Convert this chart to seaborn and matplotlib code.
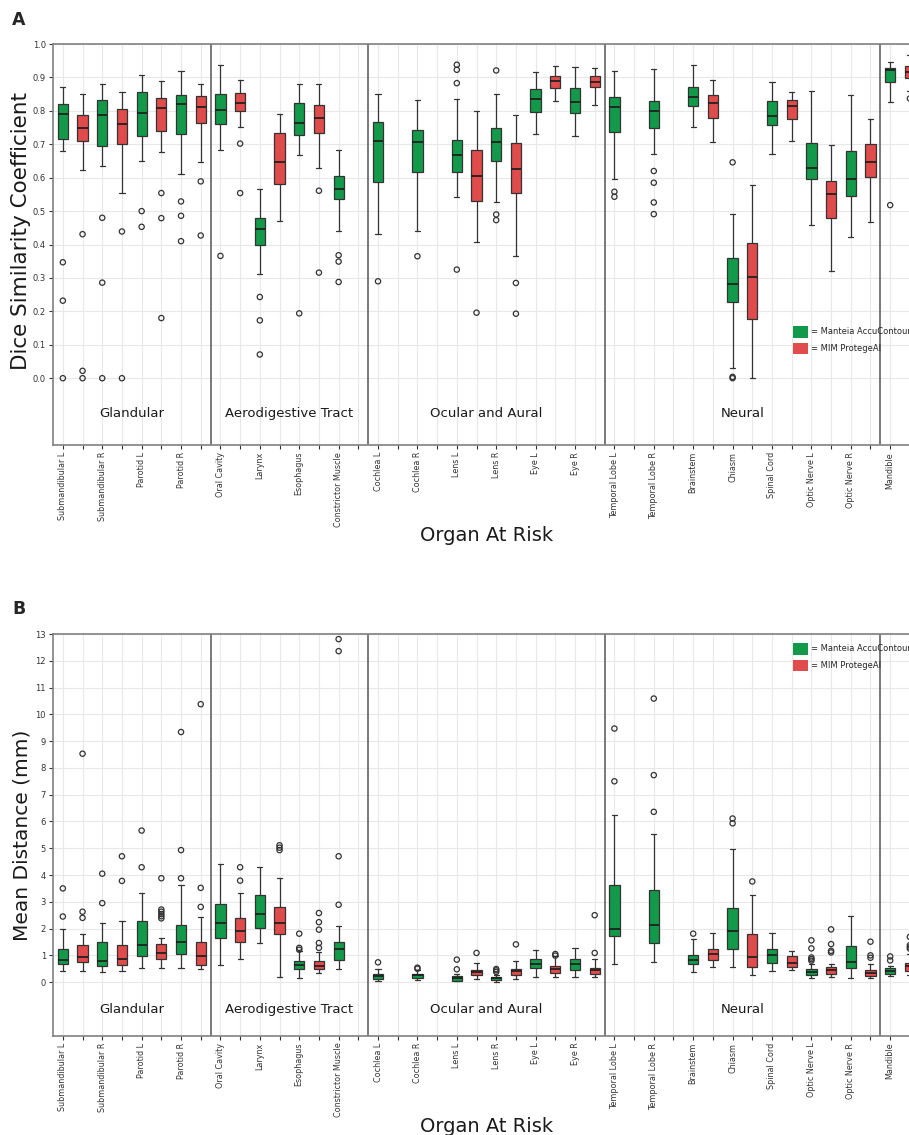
import numpy as np
import pandas as pd
import seaborn as sns
import matplotlib.pyplot as plt
from matplotlib.patches import Patch

# organs in plotting order, grouped by region
organs = ["Submandibular L", "Submandibular R", "Parotid L", "Parotid R",
          "Oral Cavity", "Larynx", "Esophagus", "Constrictor Muscle",
          "Cochlea L", "Cochlea R", "Lens L", "Lens R", "Eye L", "Eye R",
          "Temporal Lobe L", "Temporal Lobe R", "Brainstem", "Chiasm",
          "Spinal Cord", "Optic Nerve L", "Optic Nerve R", "Mandible"]
group_names = ["Glandular", "Aerodigestive Tract", "Ocular and Aural", "Neural", ""]
group_sizes = [4, 4, 6, 7, 1]
tools = ["Manteia AccuContour", "MIM ProtegeAI"]

# box summaries: (whisker low, q1, median, q3, whisker high)
dsc_manteia = [
    (0.681, 0.716, 0.792, 0.822, 0.871), (0.635, 0.694, 0.788, 0.833, 0.881),
    (0.651, 0.724, 0.795, 0.856, 0.907), (0.611, 0.730, 0.822, 0.848, 0.919),
    (0.683, 0.761, 0.802, 0.851, 0.937), (0.311, 0.398, 0.445, 0.479, 0.566),
    (0.668, 0.727, 0.765, 0.824, 0.881), (0.442, 0.536, 0.566, 0.606, 0.682),
    (0.431, 0.587, 0.709, 0.766, 0.851), (0.440, 0.617, 0.707, 0.742, 0.833),
    (0.542, 0.618, 0.668, 0.713, 0.835), (0.526, 0.650, 0.707, 0.749, 0.851),
    (0.732, 0.798, 0.836, 0.866, 0.916), (0.725, 0.795, 0.827, 0.869, 0.931),
    (0.596, 0.736, 0.813, 0.841, 0.920), (0.671, 0.750, 0.801, 0.831, 0.926),
    (0.751, 0.815, 0.841, 0.871, 0.936), (0.031, 0.227, 0.281, 0.361, 0.492),
    (0.672, 0.758, 0.785, 0.831, 0.887), (0.458, 0.597, 0.629, 0.705, 0.859),
    (0.422, 0.545, 0.596, 0.681, 0.848), (0.828, 0.885, 0.921, 0.929, 0.945),
]
dsc_manteia_out = [
    [0.347, 0.232, 0.0], [0.480, 0.286, 0.0], [0.500, 0.453], [0.529, 0.486, 0.410],
    [0.366], [0.243, 0.173, 0.071], [0.194], [0.368, 0.349, 0.288],
    [0.290], [0.365], [0.938, 0.923, 0.883, 0.325], [0.921, 0.490, 0.473], [], [],
    [0.558, 0.543], [0.620, 0.585, 0.526, 0.491], [], [0.646, 0.004, 0.0],
    [], [], [], [0.518],
]
dsc_mim = [
    (0.622, 0.709, 0.750, 0.787, 0.851), (0.554, 0.701, 0.762, 0.807, 0.855),
    (0.678, 0.739, 0.809, 0.838, 0.890), (0.648, 0.763, 0.812, 0.845, 0.879),
    (0.753, 0.800, 0.823, 0.853, 0.891), (0.470, 0.581, 0.646, 0.735, 0.790),
    (0.629, 0.735, 0.778, 0.819, 0.881), None,
    None, None,
    (0.408, 0.531, 0.605, 0.682, 0.801), (0.366, 0.553, 0.625, 0.704, 0.789),
    (0.830, 0.869, 0.889, 0.905, 0.934), (0.819, 0.871, 0.886, 0.904, 0.929),
    None, None,
    (0.707, 0.778, 0.824, 0.847, 0.893), (0.0, 0.176, 0.304, 0.404, 0.579),
    (0.711, 0.776, 0.816, 0.833, 0.855), (0.320, 0.480, 0.551, 0.591, 0.698),
    (0.466, 0.601, 0.648, 0.700, 0.775), (0.860, 0.897, 0.917, 0.933, 0.968),
]
dsc_mim_out = [
    [0.431, 0.022, 0.0], [0.439, 0.0], [0.554, 0.479, 0.180], [0.589, 0.427],
    [0.702, 0.554], [], [0.561, 0.316], [],
    [], [], [0.196], [0.285, 0.193], [], [],
    [], [], [], [],
    [], [], [], [0.837],
]

mda_manteia = [
    (0.41, 0.66, 0.81, 1.25, 1.98), (0.36, 0.59, 0.79, 1.48, 2.19),
    (0.51, 0.96, 1.40, 2.29, 3.31), (0.53, 1.04, 1.50, 2.15, 3.63),
    (0.63, 1.63, 2.21, 2.90, 4.40), (1.45, 2.01, 2.53, 3.24, 4.30),
    (0.15, 0.50, 0.63, 0.78, 1.15), (0.48, 0.81, 1.25, 1.51, 2.09),
    (0.06, 0.11, 0.23, 0.31, 0.50), (0.09, 0.16, 0.25, 0.31, 0.44),
    (0.03, 0.06, 0.16, 0.22, 0.31), (0.0, 0.08, 0.14, 0.19, 0.25),
    (0.19, 0.51, 0.69, 0.85, 1.21), (0.19, 0.45, 0.66, 0.88, 1.26),
    (0.67, 1.73, 1.97, 3.61, 6.24), (0.76, 1.47, 2.14, 3.43, 5.53),
    (0.36, 0.67, 0.83, 1.03, 1.60), (0.56, 1.22, 1.92, 2.77, 4.98),
    (0.40, 0.71, 1.01, 1.22, 1.82), (0.14, 0.27, 0.36, 0.49, 0.69),
    (0.14, 0.52, 0.76, 1.35, 2.47), (0.24, 0.31, 0.40, 0.51, 0.62),
]
mda_manteia_out = [
    [3.50, 2.45], [4.05, 2.95], [5.66, 4.29], [9.34, 4.93, 3.88],
    [], [], [1.81, 1.28, 1.21], [12.81, 12.36, 4.70, 2.89],
    [0.74], [0.54, 0.50], [0.84, 0.48], [0.49, 0.44, 0.38], [], [],
    [9.47, 7.50], [10.59, 7.73, 6.36], [1.81], [6.11, 5.93],
    [], [1.56, 1.26, 0.92, 0.86, 0.80], [], [0.96, 0.81],
]
mda_mim = [
    (0.43, 0.74, 0.94, 1.38, 1.78), (0.43, 0.65, 0.88, 1.40, 2.30),
    (0.53, 0.85, 1.09, 1.43, 1.63), (0.49, 0.65, 0.98, 1.48, 2.44),
    (0.86, 1.50, 1.91, 2.38, 3.34), (0.20, 1.78, 2.19, 2.80, 3.90),
    (0.34, 0.49, 0.59, 0.80, 1.13), None,
    None, None,
    (0.10, 0.28, 0.38, 0.45, 0.72), (0.10, 0.25, 0.40, 0.49, 0.80),
    (0.20, 0.34, 0.49, 0.59, 0.96), (0.19, 0.29, 0.44, 0.54, 0.88),
    None, None,
    (0.56, 0.81, 1.05, 1.25, 1.84), (0.25, 0.55, 0.93, 1.78, 3.25),
    (0.46, 0.55, 0.71, 0.97, 1.18), (0.21, 0.32, 0.46, 0.57, 0.67),
    (0.17, 0.24, 0.34, 0.45, 0.66), (0.25, 0.41, 0.59, 0.71, 1.04),
]
mda_mim_out = [
    [8.53, 2.63, 2.40], [4.70, 3.78], [3.88, 2.71, 2.63, 2.54, 2.46, 2.38],
    [10.38, 3.52, 2.81], [4.29, 3.79], [5.11, 5.02, 4.93],
    [2.58, 2.24, 1.96, 1.46, 1.28], [],
    [], [], [1.09], [1.41], [1.05, 0.99], [2.50, 1.09],
    [], [], [], [3.76],
    [], [1.97, 1.42, 1.17, 1.11], [1.51, 1.00, 0.91], [1.69, 1.38, 1.31, 1.25],
]

GREEN = "#13994a"
RED = "#e04b4b"
palette = {tools[0]: GREEN, tools[1]: RED}
slots = [f"{o}|{t}" for o in organs for t in tools]


def long_tables(box_lists, out_lists):
    box_rows, out_rows = [], []
    for tool, boxes, outs in zip(tools, box_lists, out_lists):
        for organ, stats, fl in zip(organs, boxes, outs):
            slot = f"{organ}|{tool}"
            if stats is not None:
                box_rows += [(slot, tool, v) for v in stats]
            out_rows += [(slot, tool, v) for v in fl]
    cols = ["slot", "tool", "value"]
    return pd.DataFrame(box_rows, columns=cols), pd.DataFrame(out_rows, columns=cols)


def draw_panel(ax, box_df, out_df, yticks, ylim, fmt, ylabel, label_size, label_y, group_y):
    # five-number summaries -> whiskers go to min/max of the summary
    sns.boxplot(data=box_df, x="slot", y="value", hue="tool", order=slots,
                hue_order=tools, palette=palette, dodge=False, whis=(0, 100),
                width=0.52, saturation=1, showfliers=False, linewidth=0.9,
                linecolor="#333333", legend=False,
                medianprops=dict(color="#1a1a1a", linewidth=1.2), ax=ax)
    sns.stripplot(data=out_df, x="slot", y="value", order=slots, jitter=False,
                  color="#333333", facecolor="none", edgecolor="#333333",
                  linewidth=0.9, size=3.8, ax=ax)

    ax.set_xlim(-0.5, len(slots) - 0.5)
    ax.set_ylim(*ylim)
    ax.set_xticks(range(len(slots)))
    ax.set_xticklabels([s.split("|")[0] if s.endswith(tools[0]) else "" for s in slots],
                       rotation=90, fontsize=5.8)
    ax.set_yticks(yticks)
    ax.set_yticklabels([fmt.format(v) for v in yticks], fontsize=6)
    ax.tick_params(axis="both", bottom=True, left=True, length=3, width=0.8,
                   color="#333333", pad=2, labelcolor="#333333")
    ax.grid(True, color="#e8e8e8", linewidth=0.8)
    ax.set_axisbelow(True)

    # region separators and names
    ends = np.cumsum(group_sizes) * 2
    starts = ends - np.array(group_sizes) * 2
    for e in ends[:-1]:
        ax.axvline(e - 0.5, color="#6e6e6e", linewidth=1.3, zorder=1)
    for name, s, e in zip(group_names, starts, ends):
        if name:
            ax.text((s + e - 1) / 2, group_y, name, ha="center", va="center",
                    fontsize=9.5, color="#1a1a1a")

    ax.set_ylabel(ylabel, fontsize=label_size, color="#1a1a1a")
    ax.yaxis.set_label_coords(-0.025, label_y)
    ax.set_xlabel("Organ At Risk", fontsize=14, color="#1a1a1a")
    ax.xaxis.set_label_coords(0.5, -0.202)


sns.set_theme(style="whitegrid")
plt.rcParams["font.family"] = ["DejaVu Sans"]
plt.rcParams["axes.edgecolor"] = "#808080"
plt.rcParams["axes.linewidth"] = 1.2

fig = plt.figure(figsize=(9.09, 11.35), dpi=100)
# axes run past the right edge, like the cropped original
ax_a = fig.add_axes([0.0583, 0.6079, 0.9535, 0.3533])
ax_b = fig.add_axes([0.0583, 0.0875, 0.9535, 0.3539])

dsc_box, dsc_out = long_tables([dsc_manteia, dsc_mim], [dsc_manteia_out, dsc_mim_out])
mda_box, mda_out = long_tables([mda_manteia, mda_mim], [mda_manteia_out, mda_mim_out])

draw_panel(ax_a, dsc_box, dsc_out, np.round(np.arange(0, 1.01, 0.1), 1), (-0.2, 1.0),
           "{:.1f}", "Dice Similarity Coefficient", 15.5, 0.535, -0.105)
draw_panel(ax_b, mda_box, mda_out, np.arange(0, 14), (-2, 13),
           "{:.0f}", "Mean Distance (mm)", 14.5, 0.5, -1.02)

handles = [Patch(facecolor=GREEN, edgecolor="none"), Patch(facecolor=RED, edgecolor="none")]
labels = ["= Manteia AccuContour", "= MIM ProtegeAI"]
for ax, top in [(ax_a, 326), (ax_b, 643)]:
    ax.legend(handles, labels, loc="upper left", bbox_to_anchor=(793 / 909, 1 - top / 1135),
              bbox_transform=fig.transFigure, frameon=False, fontsize=6,
              handlelength=1.75, handleheight=1.75, handletextpad=0.4,
              labelspacing=0.6, borderpad=0, borderaxespad=0)

fig.text(12 / 909, 1 - 11 / 1135, "A", fontsize=12.5, fontweight="bold", va="top")
fig.text(12 / 909, 1 - 600 / 1135, "B", fontsize=12.5, fontweight="bold", va="top")

fig.savefig("out.png", dpi=100)
plt.close(fig)
